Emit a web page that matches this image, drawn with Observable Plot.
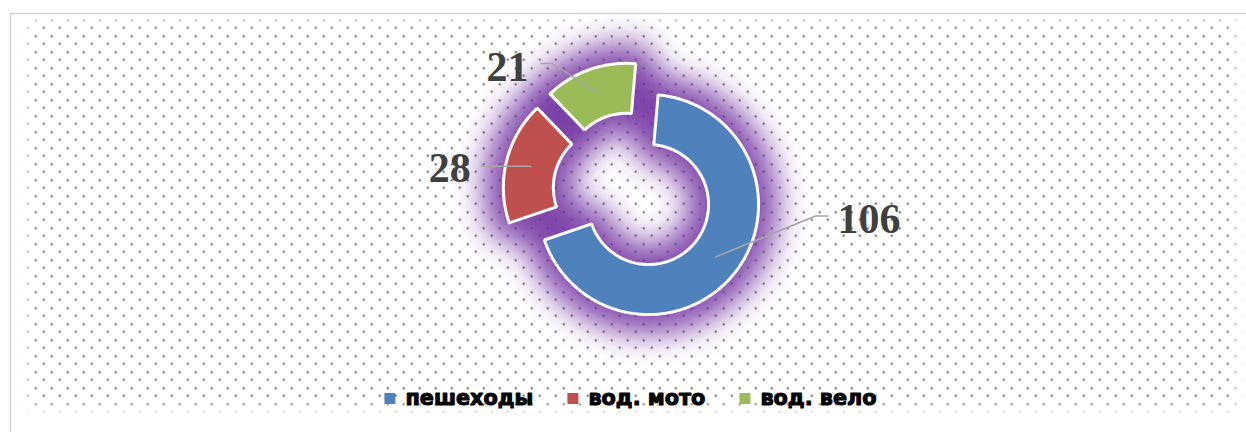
<!DOCTYPE html>
<html><head><meta charset="utf-8">
<script src="https://cdn.jsdelivr.net/npm/d3@7"></script>
<script src="https://cdn.jsdelivr.net/npm/@observablehq/plot@0.6"></script>
<style>html,body{margin:0;padding:0;background:#fff;} #chart svg{display:block}</style>
</head><body><div id="chart"></div>
<script>
// ---- data ----
const categories = ["пешеходы", "вод. мото", "вод. вело"];
const values = [106, 28, 21];
const valueLabels = ["106", "28", "21"];

// ---- styles / layout ----
const colors = ["#4F81BD", "#C0504D", "#9BBB59"];
const W = 1246, H = 432;
const CX = 632.3, CY = 191.7;
const R_IN = 60, R_OUT = 110, EXPLODE = 20;
const FIRST_ANGLE = 5; // degrees
const leaderLayout = [
  {ex: 100, ey: -41, tail: 13, gap: 9, dy: 3.6},
  {ex: 0, ey: -1, tail: -50, gap: -10, dy: 2},
  {ex: -45.5, ey: -29.6, tail: -12, gap: -12, dy: 3.6}
];
const LEG_CX = 630, LEG_Y = 398, LEG_FONT = 20.8, SW = 11, SW_GAP = 10, ITEM_GAP = 34;

const rad = Math.PI / 180;
const pie = d3.pie().sort(null).startAngle(FIRST_ANGLE * rad).endAngle((FIRST_ANGLE + 360) * rad);
const arcs = pie(values);
const slicePts = [];
const centroids = [];
arcs.forEach((a, i) => {
  const mid = (a.startAngle + a.endAngle) / 2;
  const ox = CX + EXPLODE * Math.sin(mid), oy = CY - EXPLODE * Math.cos(mid);
  const n = Math.max(2, Math.ceil((a.endAngle - a.startAngle) / rad));
  const pts = [];
  for (let k = 0; k <= n; k++) { const t = a.startAngle + (a.endAngle - a.startAngle) * k / n; pts.push([ox + R_OUT * Math.sin(t), oy - R_OUT * Math.cos(t)]); }
  for (let k = n; k >= 0; k--) { const t = a.startAngle + (a.endAngle - a.startAngle) * k / n; pts.push([ox + R_IN * Math.sin(t), oy - R_IN * Math.cos(t)]); }
  pts.push(pts[0]);
  pts.forEach(([x, y]) => slicePts.push({cat: categories[i], x, y}));
  const rm = (R_IN + R_OUT) / 2;
  centroids.push([ox + rm * Math.sin(mid), oy - rm * Math.cos(mid)]);
});

const leaderPts = [];
const labels = [];
centroids.forEach(([cx, cy], i) => {
  const L = leaderLayout[i];
  const ex = cx + L.ex, ey = cy + L.ey;
  const tx = ex + L.tail, ty = ey;
  leaderPts.push({i, x: cx, y: cy}, {i, x: ex, y: ey}, {i, x: tx, y: ty});
  labels.push({text: valueLabels[i], x: tx + L.gap, y: ty + L.dy, anchor: L.gap > 0 ? "start" : "end"});
});

// legend layout from measured text widths
const ctx = document.createElement("canvas").getContext("2d");
ctx.font = `bold ${LEG_FONT}px "DejaVu Sans"`;
const widths = categories.map(c => ctx.measureText(c).width);
const total = widths.reduce((s, w) => s + SW + SW_GAP + w, 0) + ITEM_GAP * (categories.length - 1);
let lx = LEG_CX - total / 2;
const legend = categories.map((c, i) => {
  const item = {cat: c, sx: lx + SW / 2, tx: lx + SW + SW_GAP, y: LEG_Y};
  lx += SW + SW_GAP + widths[i] + ITEM_GAP;
  return item;
});

const labelFont = {fontSize: 42, fontWeight: "bold", fontFamily: "'Liberation Serif', 'Times New Roman', serif", fill: "#404040"};

const svg = Plot.plot({
  width: W, height: H, margin: 0,
  x: {domain: [0, W], range: [0, W], axis: null},
  y: {domain: [0, H], range: [0, H], axis: null},
  color: {domain: categories, range: colors},
  style: {background: "white"},
  marks: [
    Plot.frame({fill: "url(#dots)", insetLeft: 10, insetTop: 13, insetRight: -6, insetBottom: -6, className: "dotsbg"}),
    Plot.frame({stroke: "#d3d3d3", strokeWidth: 1.5, insetLeft: 10, insetTop: 13, insetRight: -6, insetBottom: -6}),
    Plot.line(slicePts, {x: "x", y: "y", z: "cat", fill: "#7030A0", stroke: "#7030A0", strokeWidth: 40, strokeLinejoin: "round", opacity: 0.85, className: "glow"}),
    Plot.line(slicePts, {x: "x", y: "y", z: "cat", fill: "cat", stroke: "white", strokeWidth: 3, strokeLinejoin: "miter"}),
    Plot.line(leaderPts, {x: "x", y: "y", z: "i", stroke: "#a6a6a6", strokeWidth: 1.6, strokeLinejoin: "miter", strokeLinecap: "butt"}),
    Plot.text(labels.filter(d => d.anchor === "start"), {x: "x", y: "y", text: "text", textAnchor: "start", ...labelFont}),
    Plot.text(labels.filter(d => d.anchor === "end"), {x: "x", y: "y", text: "text", textAnchor: "end", ...labelFont}),
    Plot.dot(legend, {x: "sx", y: "y", symbol: "square", r: SW / Math.sqrt(Math.PI), fill: "cat", stroke: null}),
    Plot.text(legend, {x: "tx", y: "y", text: "cat", textAnchor: "start", fontSize: LEG_FONT, fontWeight: "bold", fontFamily: "'DejaVu Sans'", fill: "black", stroke: "black", strokeWidth: 1})
  ]
});

const s = d3.select(svg);
const defs = s.insert("defs", ":first-child");
const pat = defs.append("pattern").attr("id", "dots").attr("patternUnits", "userSpaceOnUse").attr("width", 16).attr("height", 16);
pat.append("circle").attr("cx", 11.3).attr("cy", 11.3).attr("r", 0.95).attr("fill", "#222");
pat.append("circle").attr("cx", 3.3).attr("cy", 3.7).attr("r", 0.95).attr("fill", "#222");
const fb = defs.append("filter").attr("id", "fadeBlur").attr("x", "-10%").attr("y", "-10%").attr("width", "120%").attr("height", "120%");
fb.append("feGaussianBlur").attr("stdDeviation", 6);
const m = defs.append("mask").attr("id", "fade").attr("maskUnits", "userSpaceOnUse").attr("x", 0).attr("y", 0).attr("width", W).attr("height", H);
m.append("rect").attr("x", 28).attr("y", 20).attr("width", 1208).attr("height", 388).attr("fill", "white").attr("filter", "url(#fadeBlur)");
const gb = defs.append("filter").attr("id", "glowBlur").attr("filterUnits", "userSpaceOnUse").attr("x", 0).attr("y", 0).attr("width", W).attr("height", H);
gb.append("feGaussianBlur").attr("stdDeviation", 15);
s.selectAll(".dotsbg").attr("mask", "url(#fade)");
s.selectAll(".glow").attr("filter", "url(#glowBlur)");
document.getElementById("chart").appendChild(svg);
</script>
</body></html>
